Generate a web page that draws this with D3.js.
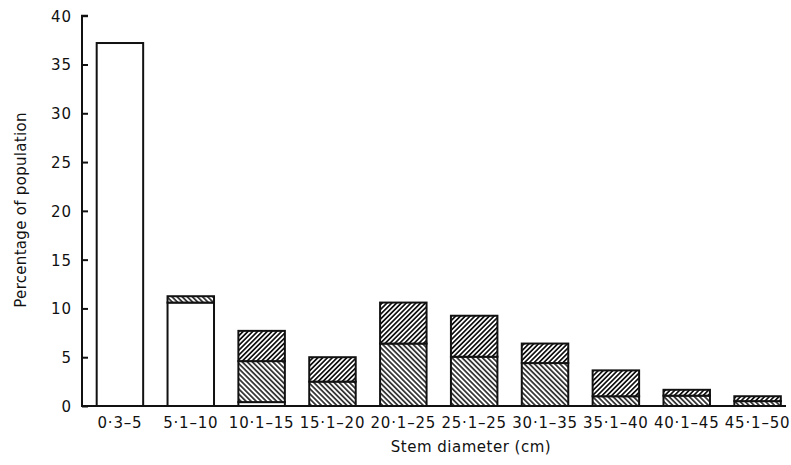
<!DOCTYPE html>
<html><head><meta charset="utf-8">
<script src="https://cdn.jsdelivr.net/npm/d3@7"></script>
<style>
html,body{margin:0;padding:0;background:#fff;}
text{font-family:"DejaVu Sans",sans-serif;fill:#111;}
</style></head>
<body>
<svg id="chart" width="791" height="465"></svg>
<script>
const categories = ["0·3–5","5·1–10","10·1–15","15·1–20","20·1–25","25·1–25","30·1–35","35·1–40","40·1–45","45·1–50"];
const openValues = [37.2, 10.6, 0.4, 0, 0, 0, 0, 0, 0, 0];
const backHatchValues = [0, 0.65, 4.2, 2.5, 6.4, 5.05, 4.4, 1.0, 1.06, 0.5];
const fwdHatchValues = [0, 0, 3.1, 2.5, 4.2, 4.2, 2.0, 2.65, 0.6, 0.5];
const yTicks = [0, 5, 10, 15, 20, 25, 30, 35, 40];
const yTitle = "Percentage of population";
const xTitle = "Stem diameter (cm)";

const svg = d3.select("#chart");
const defs = svg.append("defs");
function hatch(id, angle, sp, sw){
  const p = defs.append("pattern").attr("id", id).attr("patternUnits","userSpaceOnUse")
    .attr("width", sp).attr("height", sp).attr("patternTransform", `rotate(${angle})`);
  p.append("rect").attr("width", sp).attr("height", sp).attr("fill","#fff");
  p.append("line").attr("x1", sp/2).attr("x2", sp/2).attr("y1", 0).attr("y2", sp)
    .attr("stroke","#111").attr("stroke-width", sw);
}
hatch("back", -45, 3.6, 1.5);
hatch("fwd", 45, 3.4, 1.7);

const y = d3.scaleLinear().domain([0, 40]).range([406, 15.7]);
const x = d3.scaleBand().domain(categories).range([84.5, 793]).paddingInner(0.344).paddingOuter(0.172);

const series = [
  {key:"open", vals: openValues, fill:"#fff"},
  {key:"back", vals: backHatchValues, fill:"url(#back)"},
  {key:"fwd", vals: fwdHatchValues, fill:"url(#fwd)"}
];
const table = categories.map((c,i)=>({cat:c, open:openValues[i], back:backHatchValues[i], fwd:fwdHatchValues[i]}));
const stack = d3.stack().keys(series.map(s=>s.key))(table);

stack.forEach((layer, li)=>{
  svg.append("g").selectAll("rect").data(layer.filter(d=>d[1]-d[0]>0)).join("rect")
    .attr("x", d=>x(d.data.cat))
    .attr("width", x.bandwidth())
    .attr("y", d=>y(d[1]))
    .attr("height", d=>y(d[0])-y(d[1]))
    .attr("fill", series[li].fill)
    .attr("stroke","#111").attr("stroke-width",2);
});

// axes
const yAxis = d3.axisRight(y).tickValues(yTicks).tickSize(6).tickFormat(d3.format("d"));
const gy = svg.append("g").attr("transform","translate(82,0)").call(yAxis);
gy.select(".domain").attr("d", `M6,${y(40)}H0V${y(0)}`).attr("stroke","#111").attr("stroke-width",2);
gy.selectAll(".tick line").attr("stroke","#111").attr("stroke-width",2);
gy.selectAll(".tick text").attr("x",-10).attr("text-anchor","end").attr("dy","0.36em")
  .style("font-size","15px").style("letter-spacing","1px");

const xAxis = d3.axisBottom(x).tickSize(0).tickPadding(0);
const gx = svg.append("g").attr("transform","translate(0,406)").call(xAxis);
gx.select(".domain").attr("d","M81,0H786").attr("stroke","#111").attr("stroke-width",2);
gx.selectAll(".tick text").attr("y",22).attr("dy",0)
  .style("font-size","15px").style("letter-spacing","0.8px");

svg.append("text").attr("transform","translate(26,210) rotate(-90)").attr("text-anchor","middle")
  .style("font-size","15px").style("letter-spacing","0.3px").text(yTitle);
svg.append("text").attr("x",471).attr("y",452).attr("text-anchor","middle")
  .style("font-size","15px").style("letter-spacing","0.5px").text(xTitle);
</script>
</body></html>
